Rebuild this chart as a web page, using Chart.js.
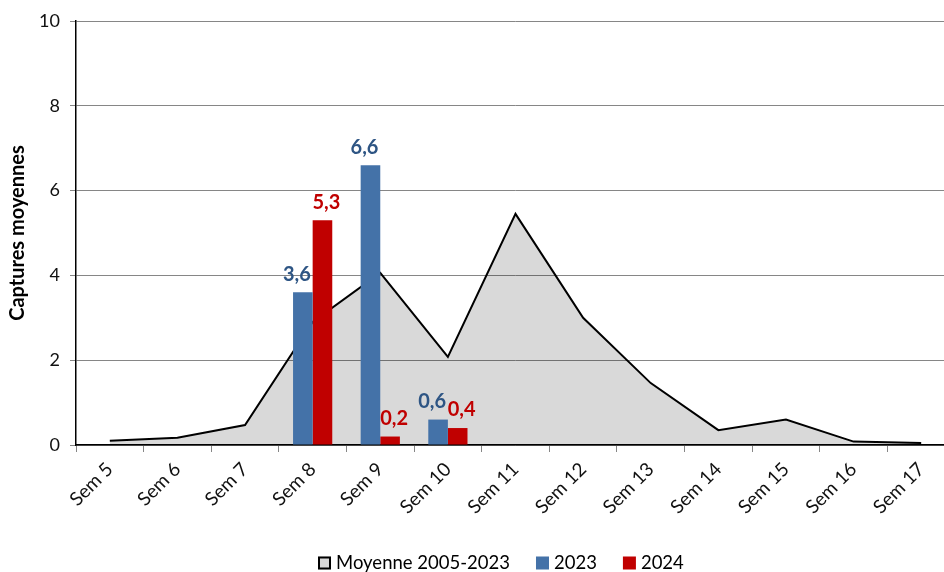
<!DOCTYPE html>
<html>
<head>
<meta charset="utf-8">
<script src="https://cdn.jsdelivr.net/npm/chart.js@4/dist/chart.umd.min.js"></script>
<style>
  html, body { margin: 0; padding: 0; background: #fff; overflow: hidden; }
  #wrap { width: 960px; height: 572px; }
</style>
</head>
<body>
<div id="wrap"><canvas id="c" width="960" height="572"></canvas></div>
<script>
// Captures moyennes par semaine
const weeks = ['Sem 5', 'Sem 6', 'Sem 7', 'Sem 8', 'Sem 9', 'Sem 10', 'Sem 11',
  'Sem 12', 'Sem 13', 'Sem 14', 'Sem 15', 'Sem 16', 'Sem 17'];
const moyenne = [0.1, 0.17, 0.47, 2.9, 4.06, 2.08, 5.45, 3.0, 1.46, 0.35, 0.6, 0.08, 0.05];
const y2023 = [null, null, null, 3.6, 6.6, 0.6, null, null, null, null, null, null, null];
const y2024 = [null, null, null, 5.3, 0.2, 0.4, null, null, null, null, null, null, null];
const yTicks = [0, 2, 4, 6, 8, 10];

const BLUE = '#4472A8';
const RED = '#C00000';
const FONT = 'Lato, "Open Sans", sans-serif';

// bar value labels, French decimal comma; labelDx nudges them apart like the original
const barLabels = {
  id: 'barLabels',
  afterDatasetsDraw(chart) {
    const ctx = chart.ctx;
    ctx.save();
    ctx.font = 'bold 20px ' + FONT;
    ctx.textAlign = 'center';
    ctx.textBaseline = 'bottom';
    chart.data.datasets.forEach((ds, i) => {
      if (ds.type !== 'bar') return;
      const meta = chart.getDatasetMeta(i);
      ctx.fillStyle = ds.labelColor;
      meta.data.forEach((bar, j) => {
        const v = ds.data[j];
        if (v == null) return;
        ctx.fillText(v.toFixed(1).replace('.', ','), bar.x + ds.labelDx, bar.y - 8);
      });
    });
    ctx.restore();
  }
};

// legend drawn under the axis, offset like the original
const bottomLegend = {
  id: 'bottomLegend',
  afterDraw(chart) {
    const ctx = chart.ctx;
    const items = [
      { text: 'Moyenne 2005-2023', fill: '#D9D9D9', stroke: '#000' },
      { text: '2023', fill: BLUE },
      { text: '2024', fill: RED }
    ];
    ctx.save();
    ctx.font = '18.5px ' + FONT;
    ctx.textBaseline = 'middle';
    let x = 318;
    const y = 563;
    items.forEach(it => {
      ctx.fillStyle = it.fill;
      ctx.fillRect(x, y - 6.5, 13, 13);
      if (it.stroke) {
        ctx.strokeStyle = it.stroke;
        ctx.lineWidth = 2;
        ctx.strokeRect(x + 1, y - 5.5, 11, 11);
      }
      ctx.fillStyle = '#000';
      ctx.fillText(it.text, x + 18, y);
      x += 18 + ctx.measureText(it.text).width + 26;
    });
    ctx.restore();
  }
};

new Chart(document.getElementById('c'), {
  data: {
    labels: weeks,
    datasets: [
      {
        type: 'bar',
        label: '2023',
        data: y2023,
        backgroundColor: BLUE,
        labelColor: '#2E5584',
        labelDx: -6,
        categoryPercentage: 0.58,
        barPercentage: 1.0,
        order: 1
      },
      {
        type: 'bar',
        label: '2024',
        data: y2024,
        backgroundColor: RED,
        labelColor: RED,
        labelDx: 4,
        categoryPercentage: 0.58,
        barPercentage: 1.0,
        order: 2
      },
      {
        type: 'line',
        label: 'Moyenne 2005-2023',
        data: moyenne,
        fill: 'origin',
        backgroundColor: 'rgba(0,0,0,0.15)',
        borderColor: '#000',
        borderWidth: 2,
        pointRadius: 0,
        tension: 0,
        order: 3
      }
    ]
  },
  options: {
    responsive: false,
    animation: false,
    layout: { padding: { left: 0, right: 5, top: 21, bottom: 27 } },
    plugins: {
      legend: { display: false },
      tooltip: { enabled: false }
    },
    scales: {
      x: {
        type: 'category',
        offset: true,
        grid: {
          offset: true,
          drawOnChartArea: false,
          color: '#868686',
          tickLength: 7
        },
        border: { color: '#000', width: 1.5 },
        ticks: {
          minRotation: 45,
          maxRotation: 45,
          padding: 6,
          color: '#111',
          font: { family: FONT, size: 19 }
        },
        afterFit: s => { s.height = 100; }
      },
      y: {
        min: 0,
        max: 10,
        afterBuildTicks: s => { s.ticks = yTicks.map(v => ({ value: v })); },
        grid: { color: '#868686', tickLength: 6 },
        border: { color: '#000', width: 1.5 },
        ticks: {
          padding: 10,
          color: '#111',
          font: { family: FONT, size: 18 }
        },
        title: {
          display: true,
          text: 'Captures moyennes',
          color: '#000',
          font: { family: FONT, size: 20, weight: 'bold' },
          padding: { top: 6, bottom: 0 }
        },
        afterFit: s => { s.width = 76; }
      }
    }
  },
  plugins: [barLabels, bottomLegend]
});
</script>
</body>
</html>
